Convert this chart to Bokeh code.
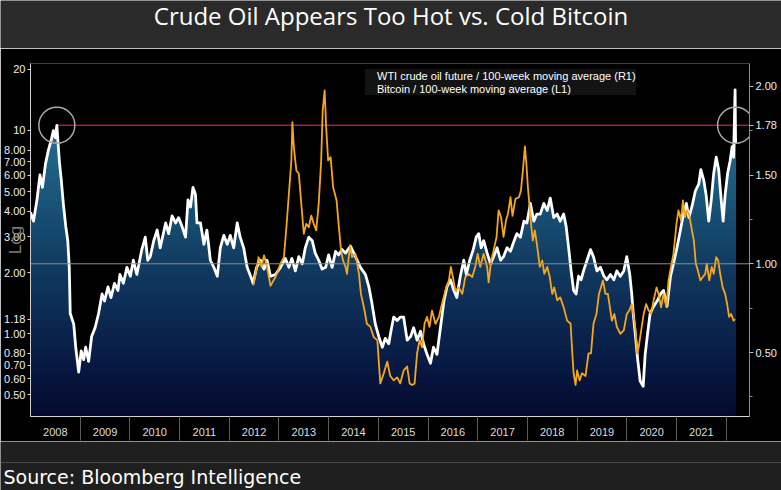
import numpy as np
from bokeh.plotting import figure
from bokeh.models import (Range1d, LinearScale, LinearAxis, FixedTicker, Span, Title,
                          Legend, LegendItem, CustomJSTickFormatter)
from bokeh.layouts import column
from bokeh.embed import file_html
from bokeh.resources import INLINE
from bokeh.core.properties import value

TITLE = "Crude Oil Appears Too Hot vs. Cold Bitcoin"
SOURCE = "Source: Bloomberg Intelligence"
OIL_LABEL = "WTI crude oil future / 100-week moving average (R1)"
BTC_LABEL = "Bitcoin / 100-week moving average (L1)"

# WTI crude oil / 100-week moving average (right axis, linear)
oil_t = [2008.00, 2008.06, 2008.13, 2008.19, 2008.24, 2008.30, 2008.36, 2008.42, 2008.46, 2008.50,
         2008.53, 2008.58, 2008.62, 2008.66, 2008.71, 2008.75, 2008.78, 2008.80, 2008.87, 2008.91,
         2008.97, 2009.02, 2009.07, 2009.11, 2009.17, 2009.23, 2009.30, 2009.37, 2009.44, 2009.49,
         2009.56, 2009.62, 2009.69, 2009.76, 2009.80, 2009.87, 2009.94, 2010.01, 2010.07, 2010.14,
         2010.24, 2010.31, 2010.36, 2010.41, 2010.48, 2010.55, 2010.61, 2010.72, 2010.78, 2010.85,
         2010.92, 2010.98, 2011.05, 2011.12, 2011.17, 2011.22, 2011.27, 2011.32, 2011.35, 2011.42,
         2011.49, 2011.55, 2011.62, 2011.69, 2011.76, 2011.82, 2011.89, 2011.96, 2012.02, 2012.09,
         2012.16, 2012.22, 2012.29, 2012.36, 2012.43, 2012.48, 2012.55, 2012.63, 2012.70, 2012.76,
         2012.83, 2012.93, 2013.03, 2013.13, 2013.20, 2013.26, 2013.33, 2013.40, 2013.47, 2013.53,
         2013.60, 2013.67, 2013.73, 2013.80, 2013.87, 2013.94, 2014.00, 2014.07, 2014.14, 2014.20,
         2014.27, 2014.34, 2014.44, 2014.54, 2014.64, 2014.74, 2014.81, 2014.87, 2014.94, 2015.01,
         2015.08, 2015.14, 2015.21, 2015.26, 2015.31, 2015.38, 2015.44, 2015.51, 2015.58, 2015.65,
         2015.71, 2015.78, 2015.85, 2015.91, 2015.98, 2016.05, 2016.11, 2016.18, 2016.25, 2016.32,
         2016.38, 2016.45, 2016.52, 2016.58, 2016.65, 2016.72, 2016.77, 2016.84, 2016.91, 2016.97,
         2017.02, 2017.07, 2017.12, 2017.19, 2017.26, 2017.32, 2017.39, 2017.46, 2017.52, 2017.59,
         2017.66, 2017.72, 2017.79, 2017.86, 2017.93, 2017.99, 2018.06, 2018.13, 2018.19, 2018.26,
         2018.33, 2018.40, 2018.46, 2018.53, 2018.60, 2018.66, 2018.73, 2018.78, 2018.83, 2018.88,
         2018.93, 2018.98, 2019.03, 2019.08, 2019.13, 2019.20, 2019.27, 2019.33, 2019.40, 2019.47,
         2019.54, 2019.60, 2019.67, 2019.74, 2019.80, 2019.87, 2019.94, 2020.00, 2020.06, 2020.10,
         2020.13, 2020.17, 2020.22, 2020.27, 2020.33, 2020.37, 2020.42, 2020.47, 2020.54, 2020.61,
         2020.68, 2020.74, 2020.81, 2020.88, 2020.94, 2021.01, 2021.08, 2021.14, 2021.20, 2021.25,
         2021.31, 2021.38, 2021.45, 2021.49, 2021.55, 2021.60, 2021.65, 2021.70, 2021.75, 2021.80,
         2021.85, 2021.90, 2021.94, 2021.98, 2022.03, 2022.08, 2022.12, 2022.15, 2022.18, 2022.19]
oil_v = [1.29, 1.24, 1.36, 1.50, 1.43, 1.56, 1.64, 1.70, 1.75, 1.71,
         1.78, 1.58, 1.47, 1.34, 1.21, 1.13, 0.98, 0.72, 0.66, 0.53,
         0.39, 0.51, 0.46, 0.53, 0.45, 0.59, 0.64, 0.72, 0.83, 0.79,
         0.87, 0.81, 0.89, 0.85, 0.94, 0.89, 0.98, 0.93, 1.02, 0.94,
         1.08, 1.15, 1.02, 1.04, 1.13, 1.19, 1.09, 1.23, 1.17, 1.27,
         1.23, 1.26, 1.21, 1.15, 1.36, 1.32, 1.43, 1.39, 1.23, 1.23,
         1.11, 1.19, 1.02, 0.98, 0.93, 1.09, 1.16, 1.11, 1.16, 1.09,
         1.23, 1.15, 1.09, 0.98, 0.93, 0.89, 0.98, 1.02, 0.97, 1.02,
         0.93, 0.94, 0.98, 1.03, 0.98, 1.03, 0.96, 1.04, 1.00, 1.09,
         1.15, 1.13, 1.06, 1.02, 0.97, 0.98, 1.05, 0.98, 1.07, 1.05,
         1.08, 1.06, 1.10, 1.04, 0.98, 0.94, 0.87, 0.78, 0.66, 0.59,
         0.53, 0.58, 0.55, 0.63, 0.70, 0.68, 0.70, 0.70, 0.57, 0.59,
         0.64, 0.57, 0.62, 0.55, 0.49, 0.44, 0.53, 0.49, 0.64, 0.79,
         0.87, 0.91, 0.85, 0.81, 0.93, 1.02, 0.94, 1.02, 1.08, 1.15,
         1.17, 1.09, 1.13, 1.06, 1.00, 1.04, 1.09, 1.02, 1.04, 1.09,
         1.07, 1.12, 1.17, 1.15, 1.24, 1.23, 1.34, 1.24, 1.28, 1.28,
         1.34, 1.30, 1.37, 1.26, 1.28, 1.24, 1.28, 1.21, 1.09, 0.96,
         0.85, 0.83, 0.93, 0.91, 0.96, 1.02, 1.08, 1.04, 0.96, 0.98,
         0.93, 0.91, 0.94, 0.91, 0.96, 0.93, 0.96, 1.04, 0.94, 0.83,
         0.72, 0.61, 0.46, 0.34, 0.31, 0.49, 0.61, 0.72, 0.76, 0.79,
         0.83, 0.85, 0.76, 0.93, 1.00, 1.09, 1.19, 1.28, 1.34, 1.26,
         1.32, 1.41, 1.45, 1.53, 1.47, 1.38, 1.24, 1.36, 1.51, 1.60,
         1.53, 1.36, 1.24, 1.39, 1.51, 1.58, 1.66, 1.60, 1.98, 1.68]

# Bitcoin / 100-week moving average (left axis, log)
btc_t = [2012.48, 2012.53, 2012.59, 2012.65, 2012.70, 2012.76, 2012.83, 2012.93, 2013.03, 2013.10,
         2013.15, 2013.20, 2013.25, 2013.27, 2013.30, 2013.35, 2013.40, 2013.45, 2013.50, 2013.55,
         2013.60, 2013.65, 2013.70, 2013.75, 2013.80, 2013.85, 2013.88, 2013.92, 2013.95, 2013.99,
         2014.04, 2014.09, 2014.16, 2014.20, 2014.25, 2014.29, 2014.34, 2014.37, 2014.43, 2014.47,
         2014.54, 2014.61, 2014.65, 2014.71, 2014.77, 2014.84, 2014.91, 2014.98, 2015.04, 2015.11,
         2015.18, 2015.24, 2015.31, 2015.38, 2015.44, 2015.51, 2015.58, 2015.63, 2015.68, 2015.73,
         2015.78, 2015.83, 2015.88, 2015.93, 2015.98, 2016.03, 2016.08, 2016.15, 2016.22, 2016.28,
         2016.35, 2016.42, 2016.46, 2016.50, 2016.55, 2016.62, 2016.69, 2016.75, 2016.82, 2016.89,
         2016.95, 2017.00, 2017.05, 2017.12, 2017.19, 2017.22, 2017.27, 2017.32, 2017.38, 2017.42,
         2017.47, 2017.52, 2017.57, 2017.61, 2017.66, 2017.70, 2017.76, 2017.83, 2017.87, 2017.91,
         2017.95, 2017.98, 2018.01, 2018.05, 2018.08, 2018.11, 2018.15, 2018.19, 2018.25, 2018.30,
         2018.34, 2018.40, 2018.45, 2018.50, 2018.54, 2018.60, 2018.66, 2018.73, 2018.80, 2018.87,
         2018.90, 2018.93, 2018.97, 2019.00, 2019.05, 2019.10, 2019.17, 2019.23, 2019.28, 2019.33,
         2019.39, 2019.44, 2019.48, 2019.52, 2019.57, 2019.62, 2019.66, 2019.70, 2019.75, 2019.80,
         2019.87, 2019.94, 2020.00, 2020.05, 2020.10, 2020.17, 2020.21, 2020.24, 2020.29, 2020.34,
         2020.39, 2020.44, 2020.49, 2020.54, 2020.60, 2020.64, 2020.69, 2020.74, 2020.80, 2020.84,
         2020.89, 2020.94, 2021.00, 2021.04, 2021.09, 2021.13, 2021.17, 2021.21, 2021.25, 2021.30,
         2021.35, 2021.39, 2021.43, 2021.48, 2021.53, 2021.58, 2021.61, 2021.66, 2021.71, 2021.75,
         2021.80, 2021.84, 2021.88, 2021.93, 2021.98, 2022.02, 2022.06, 2022.10, 2022.15, 2022.18]
btc_v = [1.73, 1.97, 2.38, 2.13, 2.43, 2.13, 1.72, 1.90, 2.21, 2.38,
         3.34, 4.88, 7.11, 10.97, 8.27, 6.35, 6.11, 4.35, 3.10, 3.47,
         3.34, 3.81, 3.47, 3.22, 4.35, 7.11, 12.5, 15.7, 10.4, 7.11,
         7.38, 5.26, 4.52, 3.47, 2.57, 2.29, 2.13, 1.97, 2.72, 2.38,
         2.47, 1.97, 1.57, 1.35, 1.12, 1.08, 0.96, 0.93, 0.57, 0.64,
         0.73, 0.62, 0.59, 0.61, 0.57, 0.66, 0.69, 0.57, 0.56, 0.57,
         0.80, 0.93, 0.86, 1.12, 1.21, 1.08, 1.30, 1.12, 1.21, 1.40,
         1.63, 1.83, 2.13, 1.90, 1.63, 1.69, 1.57, 1.90, 1.97, 1.90,
         2.13, 2.47, 2.13, 2.47, 2.13, 1.79, 2.29, 2.57, 2.99, 4.04,
         3.74, 2.99, 3.61, 3.89, 4.69, 3.80, 4.60, 4.69, 5.06, 6.35,
         8.33, 6.84, 5.26, 4.04, 3.34, 2.87, 3.22, 2.77, 2.13, 2.29,
         1.97, 2.13, 1.90, 1.57, 1.69, 1.46, 1.51, 1.35, 1.16, 1.12,
         0.83, 0.64, 0.56, 0.66, 0.59, 0.64, 0.62, 0.80, 0.80, 1.12,
         1.25, 1.57, 1.69, 1.83, 1.57, 1.57, 1.35, 1.16, 1.25, 1.08,
         1.00, 1.04, 1.25, 1.30, 1.40, 1.08, 0.80, 0.86, 1.04, 1.25,
         1.40, 1.30, 1.25, 1.46, 1.69, 1.57, 1.35, 1.57, 1.35, 1.83,
         2.13, 2.47, 3.47, 4.04, 3.61, 4.52, 3.74, 4.04, 3.89, 3.34,
         2.87, 2.21, 2.05, 1.83, 1.90, 1.97, 2.21, 1.83, 2.13, 1.97,
         2.38, 2.29, 1.97, 1.69, 1.57, 1.40, 1.21, 1.25, 1.16, 1.18]

years = list(range(2008, 2022))
left_ticks = [0.5, 0.6, 0.7, 0.8, 1.0, 2.0, 3.0, 4.0, 5.0, 6.0, 7.0, 8.0, 10.0, 20.0]
right_ticks = [0.5, 1.0, 1.5, 2.0]
right_minor = [0.25, 0.75, 1.25, 1.75]
ref_level = 1.78
base_level = 1.0
btc_last = btc_v[-1]

FONT = "Liberation Sans"
W = 781
TOP_BG = "#2a2a2a"
BOT_BG = "#1f1f1f"


def strip(height, bg):
    f = figure(width=W, height=height, x_range=Range1d(0, W), y_range=Range1d(0, height),
               toolbar_location=None, output_backend="svg", min_border=0,
               x_axis_location=None, y_axis_location=None,
               background_fill_color=bg, border_fill_color=bg, outline_line_color=None)
    f.grid.visible = False
    return f


CAN_UNALIGN = "frame_align" in figure.properties() if hasattr(figure, "properties") else False

# ---------------- title strip ----------------
tf = strip(48, TOP_BG)
# ---------------- source strip ----------------
sf = strip(49, BOT_BG)
sf.add_layout(Span(location=28, dimension="width", line_color="#7a7a7a", line_width=1,
                   line_dash="1 1"))

if CAN_UNALIGN:
    tf.frame_align = False
    sf.frame_align = False
    tf.text(x=[W / 2], y=[33], text=[TITLE], text_align="center", text_baseline="middle",
            text_color="#ffffff", text_font=value("Open Sans"), text_font_size="24px")
    sf.text(x=[3], y=[14], text=[SOURCE], text_align="left", text_baseline="middle",
            text_color="#ffffff", text_font=value("DejaVu Sans"), text_font_size="19px")
else:
    tf.title.text = TITLE
    tf.title.align = "center"
    tf.title.text_color = "#ffffff"
    tf.title.text_font = "Open Sans"
    tf.title.text_font_size = "24px"
    tf.title.text_font_style = "normal"
    tf.title.standoff = 4
    sf.add_layout(Title(text=SOURCE, align="left", offset=-27, text_color="#ffffff",
                        text_font="DejaVu Sans", text_font_size="19px",
                        text_font_style="normal", standoff=0), "below")

# ---------------- main chart ----------------
oil_t_a = np.array(oil_t)
oil_a = np.array(oil_v)
x0, x1 = 2008.0, 2022.47
rlo, rhi = 0.14, 2.128

p = figure(width=W, height=393, x_range=Range1d(x0, x1), y_range=Range1d(0.392, 21.3),
           y_axis_type="log", toolbar_location=None, output_backend="svg",
           min_border_left=30, min_border_right=32, min_border_top=15, min_border_bottom=25,
           background_fill_color="#000000", border_fill_color="#000000", outline_line_color=None)
if CAN_UNALIGN:
    p.frame_align = False
p.extra_y_ranges = {"r": Range1d(rlo, rhi)}
p.extra_y_scales = {"r": LinearScale()}
p.grid.visible = False

# vertical gradient fill under the oil line (painted in layers, top colour first)
stops = [(2.0, (38, 122, 155)), (1.5, (28, 92, 128)), (1.0, (17, 58, 96)),
         (0.5, (8, 28, 70)), (0.14, (4, 8, 45))]


def grad_color(v):
    vs = [s[0] for s in stops][::-1]
    cs = [s[1] for s in stops][::-1]
    rgb = [int(round(np.interp(v, vs, [c[i] for c in cs]))) for i in range(3)]
    return "#%02x%02x%02x" % tuple(rgb)


levels = np.linspace(2.0, 0.16, 47)
floor = np.full_like(oil_a, rlo)
p.varea(x=oil_t_a, y1=floor, y2=oil_a, y_range_name="r", fill_color=grad_color(2.0), fill_alpha=1)
for h in levels:
    p.varea(x=oil_t_a, y1=floor, y2=np.minimum(oil_a, h), y_range_name="r",
            fill_color=grad_color(h), fill_alpha=1)

# reference lines
p.add_layout(Span(location=base_level, dimension="width", y_range_name="r",
                  line_color="#8f8f8f", line_width=1))
peak_idx = int(np.argmax(oil_a[oil_t_a < 2009]))
t_peak = oil_t[peak_idx]
p.segment(x0=[t_peak], y0=[ref_level], x1=[x1], y1=[ref_level], y_range_name="r",
          line_color="#a3185c", line_width=1.5)

# series
p.line(oil_t, oil_v, y_range_name="r", line_color="#ffffff", line_width=2.8, line_join="round")
p.line(btc_t, btc_v, line_color="#f5a61d", line_width=1.8, line_join="round")

# highlight circles
p.scatter(x=[t_peak, oil_t[-1]], y=[ref_level, ref_level], y_range_name="r", marker="circle",
          size=36, fill_alpha=0, line_color="#a9a9a9", line_width=1.5)

# left (log) axis, with the last Bitcoin value tagged
ly = p.yaxis[0]
ly.ticker = FixedTicker(ticks=sorted(left_ticks + [btc_last]))
ly.formatter = CustomJSTickFormatter(code="return tick >= 10 ? tick.toFixed(0) : tick.toFixed(2);")
ly.minor_tick_line_color = None
ly.major_tick_out = 3
ly.major_tick_in = 0
ly.major_tick_line_color = "#dddddd"
ly.axis_line_color = "#cfcfcf"
ly.major_label_text_color = "#eeeeee"
ly.major_label_text_font = FONT
ly.major_label_text_font_size = "11px"
ly.major_label_standoff = 2
ly.axis_label = "Log"
ly.axis_label_standoff = -24
ly.axis_label_text_color = "#7d7d7d"
ly.axis_label_text_font = FONT
ly.axis_label_text_font_size = "17px"
ly.axis_label_text_font_style = "normal"

# right (linear) axis, with the reference level tagged
ry = LinearAxis(y_range_name="r",
                ticker=FixedTicker(ticks=sorted(right_ticks + [ref_level]), minor_ticks=right_minor),
                formatter=CustomJSTickFormatter(code="return tick.toFixed(2);"))
ry.axis_line_color = "#8a8a8a"
ry.major_tick_out = 4
ry.major_tick_in = 0
ry.minor_tick_out = 3
ry.minor_tick_in = 0
ry.major_tick_line_color = "#bbbbbb"
ry.minor_tick_line_color = "#888888"
ry.major_label_text_color = "#eeeeee"
ry.major_label_text_font = FONT
ry.major_label_text_font_size = "11px"
ry.major_label_standoff = 2
p.add_layout(ry, "right")

# bottom axis: labels mid-year, separators at year boundaries
bx = p.xaxis[0]
bx.ticker = FixedTicker(ticks=[y + 0.5 for y in years], minor_ticks=[y + 1 for y in years])
bx.formatter = CustomJSTickFormatter(code="return Math.floor(tick).toString();")
bx.major_tick_line_color = None
bx.major_tick_out = 0
bx.major_tick_in = 0
bx.minor_tick_out = 24
bx.minor_tick_in = 0
bx.minor_tick_line_color = "#5c5c5c"
bx.axis_line_color = "#d6d6d6"
bx.major_label_text_color = "#dddddd"
bx.major_label_text_font = FONT
bx.major_label_text_font_size = "11px"
bx.major_label_standoff = -13

# legend with square markers
r_oil = p.scatter(x=[], y=[], marker="square", size=9, fill_color="#ffffff", line_color=None)
r_btc = p.scatter(x=[], y=[], marker="square", size=9, fill_color="#f5a61d", line_color=None)
legend = Legend(items=[LegendItem(label=OIL_LABEL, renderers=[r_oil]),
                       LegendItem(label=BTC_LABEL, renderers=[r_btc])],
                location=(335, 321), orientation="vertical",
                background_fill_color="#131313", background_fill_alpha=1,
                border_line_color=None, label_text_color="#ffffff", label_text_font=FONT,
                label_text_font_size="11px", glyph_width=9, glyph_height=9,
                label_standoff=3, label_height=13, spacing=0, padding=3, margin=0)
p.add_layout(legend)

layout = column(tf, p, sf, spacing=0)
open("out.html", "w").write(file_html(layout, INLINE))
